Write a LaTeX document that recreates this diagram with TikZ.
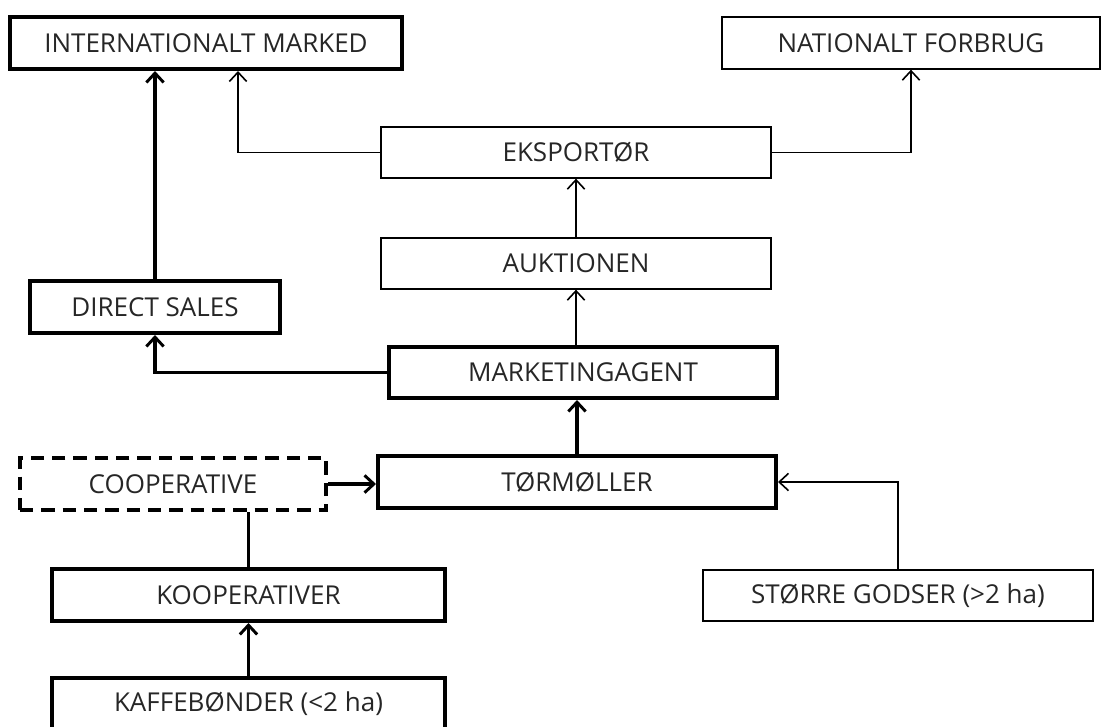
\documentclass[tikz,border=0pt]{standalone}
\usepackage{fontspec}
\setmainfont{Open Sans}
\usetikzlibrary{arrows.meta,calc,positioning}

\tikzset{
    boxthin/.style={draw, line width=1pt, inner sep=0pt, font=\fontsize{19.5}{22}\selectfont, text=black!85},
    boxthick/.style={boxthin, line width=3pt},
    boxdash/.style={boxthick, dash pattern=on 10pt off 6pt},
    boxsize/.style 2 args={minimum width=#1*0.75pt, minimum height=#2*0.75pt},
    flowthin/.style={line width=1.2pt, -{Straight Barb[length=7pt,width=13pt,line width=1.2pt]}},
    flowthick/.style={line width=2.6pt, -{Straight Barb[length=7pt,width=13pt,line width=2.2pt]}},
}

\begin{document}
\begin{tikzpicture}[x=0.75pt, y=-0.75pt]
    \useasboundingbox (0, 0) rectangle (1101, 726);

    % boxes
    \node[boxthick, boxsize={392}{52}] (inter) at (206, 43) {INTERNATIONALT MARKED};
    \node[boxthin, boxsize={378}{52}] (nation) at (911, 43) {NATIONALT FORBRUG};
    \node[boxthin, boxsize={390}{51}] (eksp) at (576, 152.5) {EKSPORTØR};
    \node[boxthin, boxsize={390}{51}] (aukt) at (576, 263.5) {AUKTIONEN};
    \node[boxthick, boxsize={250}{52}] (direct) at (155, 307) {DIRECT SALES};
    \node[boxthick, boxsize={388}{51}] (market) at (583, 372.5) {MARKETINGAGENT};
    \node[boxdash, boxsize={306}{52}] (coop) at (173, 484) {COOPERATIVE};
    \node[boxthick, boxsize={398}{52}] (tor) at (577, 482) {TØRMØLLER};
    \node[boxthick, boxsize={393}{52}] (koop) at (248.5, 595) {KOOPERATIVER};
    \node[boxthick, boxsize={393}{52}] (kaffe) at (248.5, 704) {KAFFEBØNDER (<2 ha)};
    \node[boxthin, boxsize={390}{51}] (godser) at (898, 595.5) {STØRRE GODSER (>2 ha)};

    % connectors
    \draw[flowthick] (direct.north) -- (direct.north |- inter.south);
    \draw[flowthin] (eksp.west) -| ($(inter.south)+(32, 0)$);
    \draw[flowthin] (eksp.east) -| (nation.south);
    \draw[flowthin] (aukt.north) -- (eksp.south);
    \draw[flowthin] (market.north -| aukt.south) -- (aukt.south);
    \draw[flowthick] (market.west) -| (direct.south);
    \draw[flowthick] (tor.north) -- (tor.north |- market.south);
    \draw[flowthick] (coop.east) -- (coop.east -| tor.west);
    \draw[line width=2.6pt] (koop.north) -- (koop.north |- coop.south);
    \draw[flowthick] (kaffe.north) -- (koop.south);
    \draw[flowthin] (godser.north) |- (tor.east);
\end{tikzpicture}
\end{document}
